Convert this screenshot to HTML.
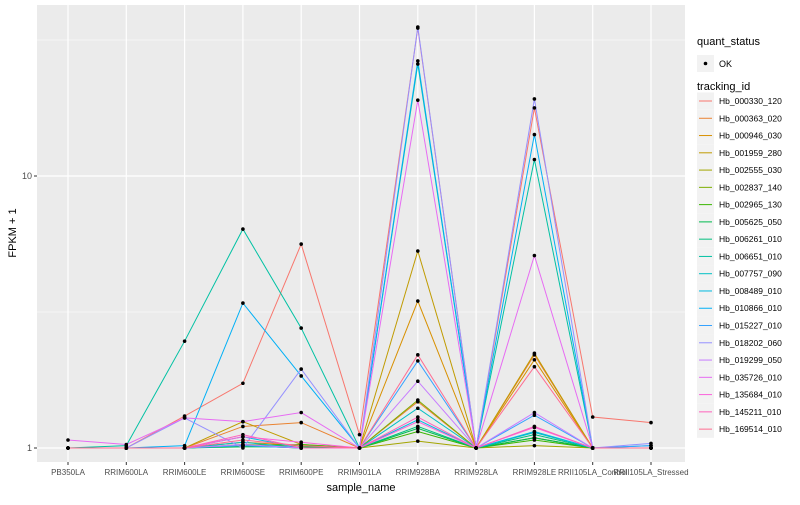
<!DOCTYPE html>
<html><head><meta charset="utf-8"><style>
body{margin:0;background:#fff;font-family:"Liberation Sans",sans-serif}
svg text{font-family:"Liberation Sans",sans-serif}
</style></head><body>
<svg id="c" width="800" height="500" xmlns="http://www.w3.org/2000/svg"></svg>
<script>
const categories=["PB350LA","RRIM600LA","RRIM600LE","RRIM600SE","RRIM600PE","RRIM901LA","RRIM928BA","RRIM928LA","RRIM928LE","RRII105LA_Control","RRII105LA_Stressed"];
const trackingIds=["Hb_000330_120","Hb_000363_020","Hb_000946_030","Hb_001959_280","Hb_002555_030","Hb_002837_140","Hb_002965_130","Hb_005625_050","Hb_006261_010","Hb_006651_010","Hb_007757_090","Hb_008489_010","Hb_010866_010","Hb_015227_010","Hb_018202_060","Hb_019299_050","Hb_035726_010","Hb_135684_010","Hb_145211_010","Hb_169514_010"];
const colors=["#F8766D","#EA8331","#D89000","#C09B00","#A3A500","#7CAE00","#39B600","#00BB4E","#00BF7D","#00C1A3","#00BFC4","#00BAE0","#00B0F6","#35A2FF","#9590FF","#C77CFF","#E76BF3","#FA62DB","#FF62BC","#FF6C91"];
const s0=[1,1,1.31,1.73,5.62,1.12,35,1,17.8,1.30,1.24];
const s1=[1,1,1,1.20,1.24,1,1.48,1,2.2,1,1];
const s2=[1,1,1,1.05,1.02,1,3.47,1,2.11,1,1];
const s3=[1,1,1,1.25,1.03,1,5.3,1,2.23,1,1];
const s4=[1,1,1,1.02,1,1,1.06,1,1.02,1,1];
const s5=[1,1,1,1.03,1.02,1,1.50,1,1.09,1,1];
const s6=[1,1,1,1.02,1.03,1,1.15,1,1.07,1,1];
const s7=[1,1,1,1.01,1.01,1,1.18,1,1.09,1,1];
const s8=[1,1,1,1.02,1,1,1.20,1,1.12,1,1];
const s9=[1,1.02,2.47,6.38,2.76,1,25.8,1,11.5,1,1];
const s10=[1,1,1,1.05,1,1,1.40,1,1.14,1,1];
const s11=[1,1,1,1.1,1,1,1.27,1,1.15,1,1.02];
const s12=[1,1,1.02,3.41,1.84,1,26.5,1,14.2,1,1];
const s13=[1,1,1,1.02,1,1,2.09,1,1.32,1,1.02];
const s14=[1,1,1.29,1.0,1.95,1,35.3,1,19.2,1,1.04];
const s15=[1,1,1,1.03,1,1,1.76,1,1.35,1,1];
const s16=[1.07,1.03,1.29,1.25,1.35,1,19,1,5.1,1,1];
const s17=[1,1,1,1.1,1.05,1,1.25,1,1.19,1,1];
const s18=[1,1,1,1.12,1,1,1.3,1,1.2,1,1];
const s19=[1,1,1,1.07,1.02,1,2.2,1,1.99,1,1];
const series=[s0,s1,s2,s3,s4,s5,s6,s7,s8,s9,s10,s11,s12,s13,s14,s15,s16,s17,s18,s19];
const yTicks=[1,10];
const yTickLabels=["1","10"];

const NS="http://www.w3.org/2000/svg";
const svg=document.getElementById('c');
function el(t,a,p){const e=document.createElementNS(NS,t);for(const k in a)e.setAttribute(k,a[k]);(p||svg).appendChild(e);return e;}
const PL=37,PR=685,PT=5,PB=462;
const xS=i=>68+i*(651-68)/(categories.length-1);
const yS=v=>448-272*Math.log10(v);

const panel=el('rect',{x:PL,y:PT,width:PR-PL,height:PB-PT,fill:'#EBEBEB'});


// minor grid
[Math.sqrt(10),Math.pow(10,1.5)].forEach(v=>{const g=el('line',{x1:PL,x2:PR,y1:yS(v),y2:yS(v),stroke:'#fff','stroke-width':0.6});

});
yTicks.forEach((v,i)=>{const g=el('line',{x1:PL,x2:PR,y1:yS(v),y2:yS(v),stroke:'#fff','stroke-width':1.2});


const tk=el('line',{x1:PL-3,x2:PL,y1:yS(v),y2:yS(v),stroke:'#333'});


const t=el('text',{x:PL-5,y:yS(v)+3,'font-size':9,fill:'#4D4D4D','text-anchor':'end'});t.textContent=yTickLabels[i];

});
categories.forEach((c,i)=>{const g=el('line',{x1:xS(i),x2:xS(i),y1:PT,y2:PB,stroke:'#fff','stroke-width':1.2});


const tk=el('line',{x1:xS(i),x2:xS(i),y1:PB,y2:PB+3,stroke:'#333'});


const t=el('text',{x:xS(i),y:PB+13,'font-size':8,fill:'#4D4D4D','text-anchor':'middle'});t.textContent=c;

});
series.forEach((s,k)=>{const p=el('polyline',{points:s.map((v,i)=>xS(i)+','+yS(v)).join(' '),fill:'none',stroke:colors[k],'stroke-width':1});

});
series.forEach((s,k)=>s.forEach((v,i)=>{const d=el('circle',{cx:xS(i),cy:yS(v),r:1.8,fill:'#000'});

}));
let t=el('text',{x:361,y:491,'font-size':11,fill:'#000','text-anchor':'middle'});t.textContent='sample_name';


t=el('text',{x:0,y:0,'font-size':11,fill:'#000','text-anchor':'middle',transform:'translate(16,233) rotate(-90)'});t.textContent='FPKM + 1';


t=el('text',{x:697,y:45,'font-size':11,fill:'#000'});t.textContent='quant_status';


let kb=el('rect',{x:697,y:55,width:17,height:17,fill:'#F2F2F2'});


let kd=el('circle',{cx:705.5,cy:63.5,r:1.8,fill:'#000'});


t=el('text',{x:719,y:67,'font-size':9,fill:'#000'});t.textContent='OK';


t=el('text',{x:697,y:90,'font-size':11,fill:'#000'});t.textContent='tracking_id';


trackingIds.forEach((id,k)=>{const y=101+k*17.27;
const b=el('rect',{x:697,y:y-8.6,width:17,height:17.27,fill:'#F2F2F2'});


const l=el('line',{x1:699,x2:712,y1:y,y2:y,stroke:colors[k],'stroke-width':1});


const tx=el('text',{x:719,y:y+3,'font-size':8.5,fill:'#000'});tx.textContent=id;

});
</script>
</body></html>
